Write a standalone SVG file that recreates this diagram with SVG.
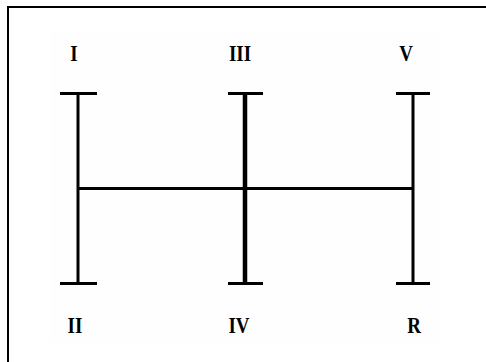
<svg xmlns="http://www.w3.org/2000/svg" width="486" height="362" viewBox="0 0 486 362">
<style>
.frame{fill:none;stroke:#000;stroke-width:2}
.bar{stroke:#000;stroke-width:3;fill:none}
.thick{stroke-width:4.5}
.lbl{font-family:"Liberation Serif","Times New Roman",serif;font-weight:bold;font-size:19px;fill:#000;text-anchor:middle}
</style>
<rect width="486" height="362" fill="#fff"/>
<rect x="50" y="32" width="390" height="310" fill="#fefefe"/>
<polyline class="frame" points="8,362 8,7 486,7"/>
<g id="connectors">
<line class="bar" x1="78" y1="188.5" x2="413" y2="188.5"/>
</g>
<g id="gate-left">
<line class="bar" x1="78" y1="93" x2="78" y2="283"/>
<line class="bar" x1="60" y1="93.5" x2="97" y2="93.5"/>
<line class="bar" x1="60" y1="283.5" x2="97" y2="283.5"/>
</g>
<g id="gate-middle">
<line class="bar thick" x1="245" y1="93" x2="245" y2="283"/>
<line class="bar" x1="228" y1="93.5" x2="263" y2="93.5"/>
<line class="bar" x1="228" y1="283.5" x2="263" y2="283.5"/>
</g>
<g id="gate-right">
<line class="bar" x1="413" y1="93" x2="413" y2="283"/>
<line class="bar" x1="396" y1="93.5" x2="430" y2="93.5"/>
<line class="bar" x1="396" y1="283.5" x2="430" y2="283.5"/>
</g>
<g id="label-I"><text class="lbl" transform="translate(74,61) scale(1,1.25)">I</text></g>
<g id="label-III"><text class="lbl" transform="translate(240,61) scale(1,1.25)">III</text></g>
<g id="label-V"><text class="lbl" transform="translate(406,61) scale(1,1.25)">V</text></g>
<g id="label-II"><text class="lbl" transform="translate(75,333) scale(1,1.25)">II</text></g>
<g id="label-IV"><text class="lbl" transform="translate(239,333) scale(1,1.25)">IV</text></g>
<g id="label-R"><text class="lbl" transform="translate(414,333) scale(1,1.25)">R</text></g>
</svg>
